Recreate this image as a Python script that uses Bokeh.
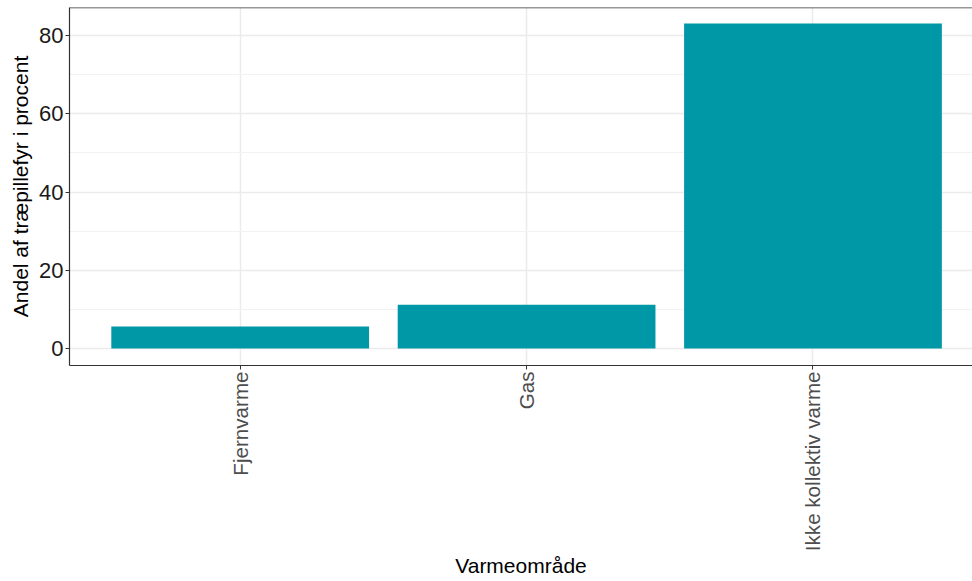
import math
from bokeh.plotting import figure
from bokeh.models import (Range1d, FixedTicker, SingleIntervalTicker,
                          ColumnDataSource, Span)
from bokeh.embed import file_html
from bokeh.resources import INLINE

categories = ["Fjernvarme", "Gas", "Ikke kollektiv varme"]
values = [5.6, 11.2, 83.1]
y_ticks = [0, 20, 40, 60, 80]

xpos = [i + 1 for i in range(len(categories))]
src = ColumnDataSource(dict(x=xpos, top=values, cat=categories))

y_start, y_end = -4.35, 87.2

p = figure(width=972, height=581, output_backend="svg", toolbar_location=None,
           x_range=Range1d(0.404, 3.557), y_range=Range1d(y_start, y_end),
           min_border_top=7, min_border_right=0, min_border_left=69,
           min_border_bottom=216,
           background_fill_color="white", border_fill_color="white")

p.vbar(x="x", top="top", bottom=0, width=0.9, source=src,
       fill_color="#0097A7", line_color=None)

# top border line of the panel (right border is cut off in the reference)
p.add_layout(Span(location=y_end, dimension="width", line_color="#333333",
                  line_width=1.5))

# axes
p.xaxis.ticker = FixedTicker(ticks=xpos)
p.xaxis.major_label_overrides = {x: c for x, c in zip(xpos, categories)}
p.xaxis.major_label_orientation = math.pi / 2
p.xaxis.axis_label = "Varmeområde"
p.yaxis.axis_label = "Andel af træpillefyr i procent"
p.yaxis.ticker = SingleIntervalTicker(interval=20, num_minor_ticks=2)
p.ygrid.ticker = SingleIntervalTicker(interval=20, num_minor_ticks=2)
p.yaxis.major_label_overrides = {t: str(t) for t in y_ticks}

for ax in (p.xaxis, p.yaxis):
    ax.axis_line_color = "#333333"
    ax.axis_line_width = 1.2
    ax.major_tick_line_color = "#333333"
    ax.major_tick_in = 0
    ax.major_tick_out = 4
    ax.minor_tick_line_color = None
    ax.major_label_text_font = "Liberation Sans"
    ax.axis_label_text_font = "Liberation Sans"
    ax.axis_label_text_font_style = "normal"
    ax.axis_label_text_color = "black"

p.xaxis.major_label_text_font_size = "20.6px"
p.xaxis.major_label_text_color = "#4D4D4D"
p.xaxis.major_label_standoff = 2
p.xaxis.axis_label_text_font_size = "21px"
p.xaxis.axis_label_standoff = 0

p.yaxis.major_label_text_font_size = "22px"
p.yaxis.major_label_text_color = "#1A1A1A"
p.yaxis.major_label_standoff = 2
p.yaxis.axis_label_text_font_size = "21px"
p.yaxis.axis_label_standoff = 4

# grid
p.xgrid.grid_line_color = "#EBEBEB"
p.xgrid.grid_line_width = 1.5
p.ygrid.grid_line_color = "#EBEBEB"
p.ygrid.grid_line_width = 1.5
p.ygrid.minor_grid_line_color = "#F2F2F2"
p.ygrid.minor_grid_line_width = 1

p.outline_line_color = None

open("out.html", "w").write(file_html(p, INLINE))
